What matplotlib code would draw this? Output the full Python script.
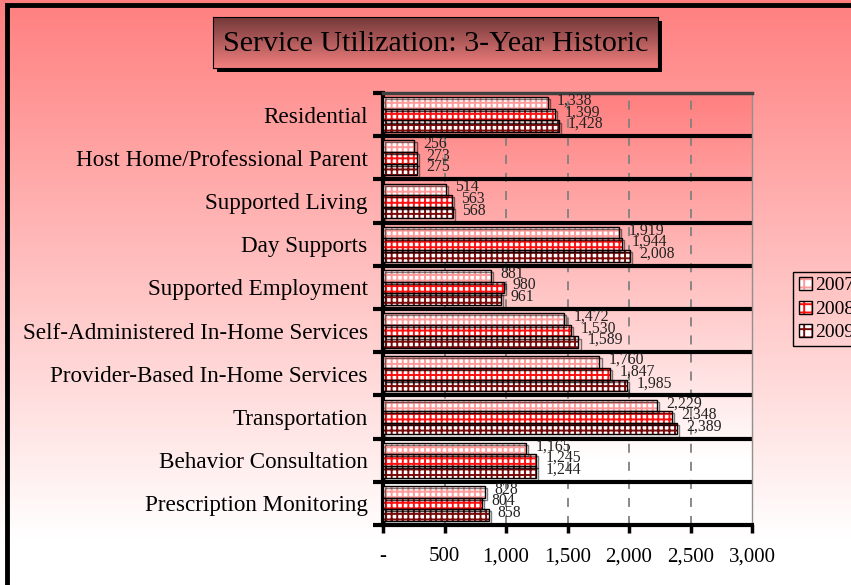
import numpy as np
import matplotlib.pyplot as plt
from matplotlib.patches import Rectangle
from matplotlib.ticker import FixedLocator, FuncFormatter
from matplotlib.legend_handler import HandlerPatch
import matplotlib.patheffects as pe

plt.rcParams['font.family'] = ['Liberation Serif', 'DejaVu Serif']
plt.rcParams['hatch.linewidth'] = 1.4

categories = ['Residential', 'Host Home/Professional Parent', 'Supported Living',
              'Day Supports', 'Supported Employment', 'Self-Administered In-Home Services',
              'Provider-Based In-Home Services', 'Transportation', 'Behavior Consultation',
              'Prescription Monitoring']
years = ['2007', '2008', '2009']
v2007 = [1338, 256, 514, 1919, 881, 1472, 1760, 2229, 1165, 828]
v2008 = [1399, 273, 563, 1944, 980, 1530, 1847, 2348, 1245, 804]
v2009 = [1428, 275, 568, 2008, 961, 1589, 1985, 2389, 1244, 858]
xticks = [0, 500, 1000, 1500, 2000, 2500, 3000]

series = [v2007, v2008, v2009]
hatch_colors = ['#ff9a9a', '#ff1010', '#7a0a0a']

fig = plt.figure(figsize=(8.51, 5.85), dpi=100)

# figure background gradient (salmon to white)
bg = fig.add_axes([0, 0, 1, 1], zorder=-5)
grad = np.linspace(0, 1, 256).reshape(-1, 1)
top = np.array([1.0, 0.50, 0.50])
bot = np.array([1.0, 1.0, 1.0])
t = np.clip(grad / 0.92, 0, 1)
bg.imshow(top + (bot - top) * t[..., None], aspect='auto', extent=[0, 1, 0, 1])
bg.axis('off')
bg.add_patch(Rectangle((0.008, -0.1), 1.2, 1.092, fill=False, lw=3.5, ec='black',
                       transform=bg.transAxes))

pos = [383 / 851, 1 - 525 / 585, (752 - 383) / 851, (525 - 93) / 585]
pbg = fig.add_axes(pos, zorder=0)
t2 = np.clip(grad / 0.85, 0, 1)
pbg.imshow(top + (bot - top) * t2[..., None], aspect='auto', extent=[0, 1, 0, 1])
pbg.axis('off')

ax = fig.add_axes(pos, zorder=1)
ax.patch.set_alpha(0)

n = len(categories)
y = np.arange(n)
h = 0.27
offs = [-h, 0, h]
for i in range(3):
    ax.barh(y + offs[i], series[i], height=h, color='white', edgecolor=hatch_colors[i],
            hatch='+++', lw=0, zorder=3)
    ax.barh(y + offs[i], series[i], height=h, fill=False, edgecolor='black', lw=1.0, zorder=4,
            path_effects=[pe.SimpleLineShadow(offset=(1.5, -1.5), alpha=0.5), pe.Normal()])
    for yy, v in zip(y + offs[i], series[i]):
        ax.text(v + 75, yy - 0.05, f'{v:,}', va='center', ha='left', fontsize=11.3,
                color='#222222', zorder=5)

ax.set_xlim(0, 3000)
ax.set_ylim(n - 0.5, -0.5)
ax.xaxis.set_major_locator(FixedLocator(xticks))
ax.xaxis.set_major_formatter(FuncFormatter(lambda x, p: '-' if x == 0 else f'{int(x):,}'))
ax.tick_params(axis='x', direction='out', length=6, width=2.5, labelsize=15, pad=10)

ax.yaxis.set_major_locator(FixedLocator(np.arange(n + 1) - 0.5))
ax.yaxis.set_major_formatter(FuncFormatter(lambda x, p: ''))
ax.set_yticks(y, categories, minor=True)
ax.tick_params(axis='y', which='major', direction='out', length=7, width=3)
ax.tick_params(axis='y', which='minor', length=0, labelsize=16.7, pad=11)

for xv in xticks[1:-1]:
    ax.axvline(xv, color='#808080', lw=1.3, ls=(0, (5, 5)), zorder=1)
for b in np.arange(1, n) - 0.5:
    ax.axhline(b, color='black', lw=3, zorder=2)

ax.spines['left'].set_linewidth(3)
ax.spines['bottom'].set_linewidth(3)
ax.spines['top'].set_linewidth(2.5)
ax.spines['top'].set_color('#404040')
ax.spines['right'].set_linewidth(1)
ax.spines['right'].set_color('#909090')


# legend with hatched square markers
class Boxed(HandlerPatch):
    def create_artists(self, legend, orig, xd, yd, w, hh, fs, trans):
        s = min(w, hh) * 0.95
        x0 = xd + (w - s) / 2
        y0 = yd + (hh - s) / 2
        r1 = Rectangle((x0, y0), s, s, facecolor='white', edgecolor=orig.get_edgecolor(),
                       hatch='++', lw=0, transform=trans)
        r2 = Rectangle((x0, y0), s, s, fill=False, edgecolor='black', lw=1, transform=trans)
        return [r1, r2]


handles = [Rectangle((0, 0), 1, 1, facecolor='white', edgecolor=hatch_colors[i], lw=0)
           for i in range(3)]
leg = fig.legend(handles, years, loc='upper left', bbox_to_anchor=(793 / 851, 1 - 272 / 585),
                 frameon=True, fancybox=False, edgecolor='black', facecolor='none',
                 fontsize=14, handlelength=0.75, handletextpad=0.15, labelspacing=0.3,
                 borderpad=0.25, borderaxespad=0, handler_map={Rectangle: Boxed()})
leg.get_frame().set_linewidth(1)
leg.get_frame().set_alpha(None)

# title box with gradient and shadow
tx0, ty0, tx1, ty1 = 213 / 851, 1 - 68 / 585, 658 / 851, 1 - 17 / 585
shadow = Rectangle((tx0 + 4 / 851, ty0 - 4 / 585), tx1 - tx0, ty1 - ty0, transform=fig.transFigure,
                   facecolor='black', edgecolor='none', zorder=5)
fig.patches.append(shadow)
tax = fig.add_axes([tx0, ty0, tx1 - tx0, ty1 - ty0], zorder=6)
c_top = np.array([0.45, 0.22, 0.22])
c_bot = np.array([0.95, 0.50, 0.50])
tax.imshow(c_top + (c_bot - c_top) * grad[..., None], aspect='auto', extent=[0, 1, 0, 1])
tax.set_xticks([])
tax.set_yticks([])
for s in tax.spines.values():
    s.set_linewidth(0.8)
tax.text(0.5, 0.47, 'Service Utilization: 3-Year Historic', ha='center', va='center',
         fontsize=21.6, color='black', transform=tax.transAxes)

fig.savefig('out.png', dpi=100)
